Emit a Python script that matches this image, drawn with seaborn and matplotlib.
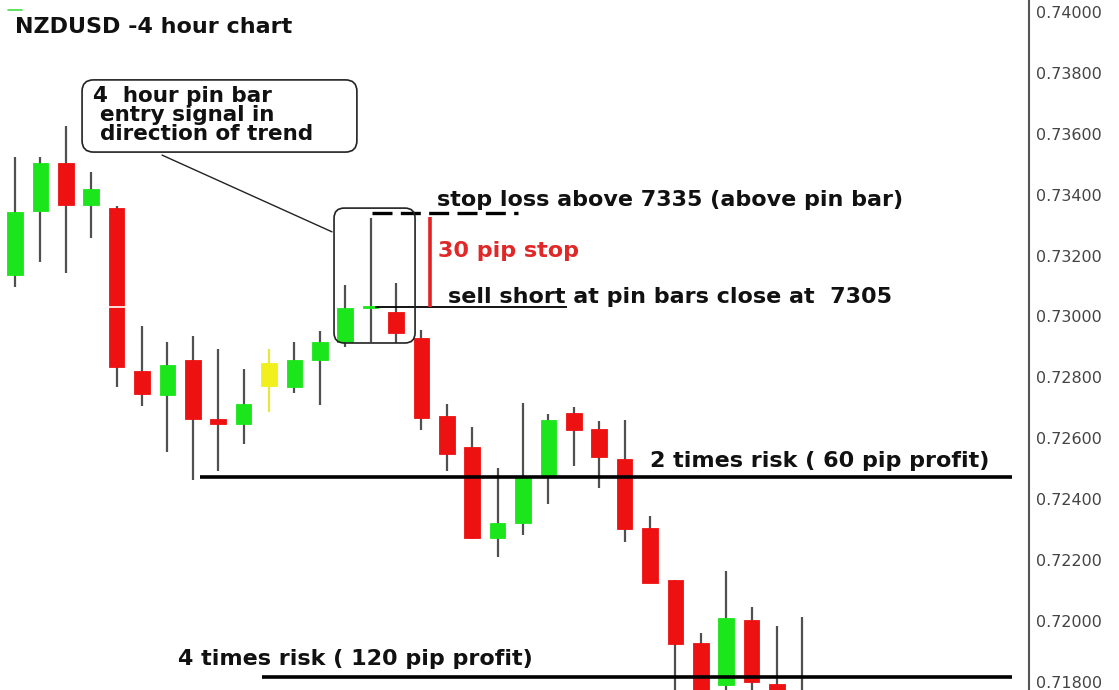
import numpy as np
import pandas as pd
import matplotlib
matplotlib.use("Agg")
import matplotlib.pyplot as plt
from matplotlib.patches import FancyBboxPatch
import seaborn as sns

# NZDUSD 4h candles
opens = [0.73136, 0.73347, 0.73504, 0.73366, 0.73356, 0.72821, 0.72742, 0.72857,
         0.72663, 0.72647, 0.72772, 0.72769, 0.72857, 0.72916, 0.73028, 0.73015,
         0.72929, 0.72673, 0.72571, 0.72273, 0.72322, 0.72476, 0.72683, 0.72631,
         0.72532, 0.72305, 0.72135, 0.71928, 0.71790, 0.72003, 0.71793, 0.71700]
closes = [0.73343, 0.73504, 0.73366, 0.73419, 0.72834, 0.72745, 0.72841, 0.72663,
          0.72647, 0.72713, 0.72847, 0.72857, 0.72916, 0.73028, 0.73034, 0.72946,
          0.72667, 0.72548, 0.72273, 0.72322, 0.72473, 0.72660, 0.72627, 0.72539,
          0.72302, 0.72125, 0.71925, 0.71708, 0.72010, 0.71800, 0.71700, 0.71690]
highs = [0.73524, 0.73524, 0.73626, 0.73475, 0.73363, 0.72969, 0.72916, 0.72936,
         0.72893, 0.72828, 0.72893, 0.72916, 0.72952, 0.73103, 0.73323, 0.73110,
         0.72956, 0.72713, 0.72637, 0.72502, 0.72716, 0.72680, 0.72703, 0.72657,
         0.72660, 0.72345, 0.72135, 0.71961, 0.72164, 0.72046, 0.71984, 0.72013]
lows = [0.73097, 0.73179, 0.73143, 0.73258, 0.72769, 0.72706, 0.72555, 0.72463,
        0.72493, 0.72581, 0.72686, 0.72749, 0.72709, 0.72900, 0.72916, 0.72913,
        0.72627, 0.72493, 0.72269, 0.72210, 0.72282, 0.72384, 0.72509, 0.72437,
        0.72260, 0.72125, 0.71675, 0.71680, 0.71740, 0.71720, 0.71680, 0.71650]
highlight = 10  # the yellow candle

y_ticks = [0.718, 0.720, 0.722, 0.724, 0.726, 0.728, 0.730,
           0.732, 0.734, 0.736, 0.738, 0.740]

# levels drawn by hand on the chart
stop_level = 0.73340
entry_level = 0.73031
risk2_level = 0.72473
risk4_level = 0.71816

df = pd.DataFrame({"open": opens, "close": closes, "high": highs, "low": lows})
df["idx"] = np.arange(len(df))
df["color"] = np.where(df["close"] >= df["open"], "#1be61b", "#ee1111")
df.loc[highlight, "color"] = "#f2f01c"

sns.set_theme(style="white")
plt.rcParams["font.family"] = ["DejaVu Sans"]

fig = plt.figure(figsize=(11.19, 6.90), dpi=100)
ax = fig.add_axes([0, 0, 1029 / 1119, 1])

wick_colors = ["#e8e640" if i == highlight else "#505050" for i in df["idx"]]
ax.vlines(df["idx"], df["low"], df["high"], colors=wick_colors, lw=1.6, zorder=2)
ax.bar(df["idx"], df["close"] - df["open"], bottom=df["open"], width=0.62,
       color=df["color"], edgecolor=df["color"], lw=0.6, zorder=3)

# white level line through the first big candle
ax.hlines(entry_level, -0.6, 12.5, color="white", lw=1.2, zorder=4)

# horizontal annotation lines
ax.hlines(risk2_level, 7.28, 39.25, color="black", lw=2.6, zorder=5)
ax.hlines(risk4_level, 9.72, 39.25, color="black", lw=2.6, zorder=5)
ax.hlines(entry_level, 14.17, 21.73, color="black", lw=1.3, zorder=5)
ax.plot([14.06, 19.80], [stop_level, stop_level], color="black", lw=2.4,
        dashes=(6, 2.5), zorder=5)
ax.vlines(16.34, entry_level, 0.73327, color="#e52222", lw=2.6, zorder=5)

# rounded boxes (data aspect correction)
aspect = 3.284e-5 * 25.4
pin_box = FancyBboxPatch((12.56, 0.72913), 15.75 - 12.56, 0.73356 - 0.72913,
                         boxstyle="round,pad=0,rounding_size=0.4",
                         mutation_aspect=aspect, fill=False, ec="#222222",
                         lw=1.2, zorder=6)
ax.add_patch(pin_box)
call_box = FancyBboxPatch((2.64, 0.73540), 13.46 - 2.64, 0.73777 - 0.73540,
                          boxstyle="round,pad=0,rounding_size=0.45",
                          mutation_aspect=aspect, fill=False, ec="#222222",
                          lw=1.2, zorder=6)
ax.add_patch(call_box)
ax.plot([5.79, 12.48], [0.73530, 0.73278], color="#222222", lw=1.0, zorder=6)

# tiny green mark top-left
ax.plot([-0.28, 0.28], [0.74007, 0.74007], color="#44dd44", lw=1.2)

fs = 16
txt = dict(fontsize=fs, fontweight="bold", color="#111111", va="baseline",
           ha="left", zorder=7)
ax.text(0.0, 0.73931, "NZDUSD -4 hour chart", **txt)
ax.text(3.07, 0.73705, "4  hour pin bar", **{**txt, "fontsize": 15.5})
ax.text(3.35, 0.73642, "entry signal in", **{**txt, "fontsize": 15.5})
ax.text(3.35, 0.73580, "direction of trend", **{**txt, "fontsize": 15.5})
ax.text(16.61, 0.73363, "stop loss above 7335 (above pin bar)", **txt)
ax.text(16.65, 0.73195, "30 pip stop", **{**txt, "color": "#e02828"})
ax.text(17.05, 0.73044, "sell short at pin bars close at  7305", **txt)
ax.text(25.0, 0.72506, "2 times risk ( 60 pip profit)", **txt)
ax.text(6.42, 0.71856, "4 times risk ( 120 pip profit)", **txt)

ax.set_xlim(-0.5906, 39.92)
ax.set_ylim(0.717734, 0.740394)
ax.set_xticks([])
ax.yaxis.tick_right()
ax.set_yticks(y_ticks)
ax.set_yticklabels([f"{v:.5f}" for v in y_ticks])
ax.tick_params(axis="y", direction="out", length=4, width=1, pad=1,
               colors="#444444", labelsize=11.5, right=True)
sns.despine(ax=ax, left=True, top=True, bottom=True, right=False)
ax.spines["right"].set_color("#555555")
ax.spines["right"].set_linewidth(1.5)
ax.grid(False)

fig.savefig("out.png", dpi=100)
